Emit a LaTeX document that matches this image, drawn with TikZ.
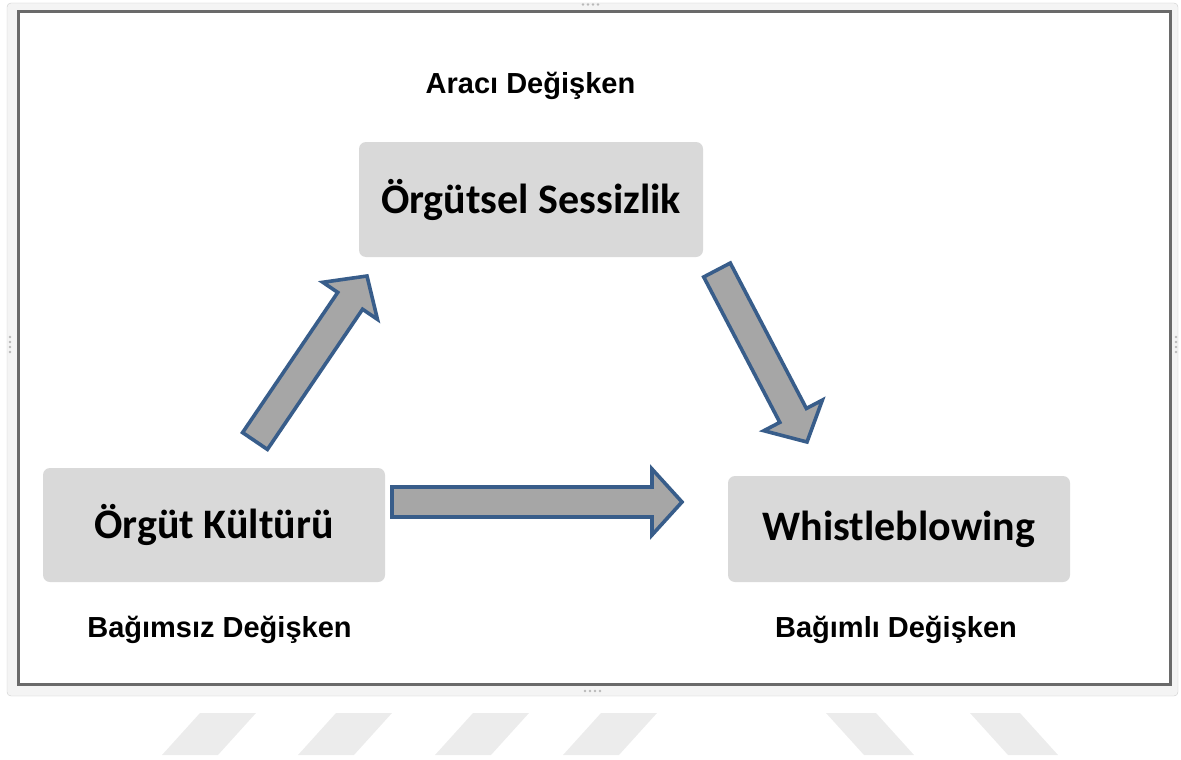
\documentclass[tikz,border=0pt]{standalone}
\usepackage{fontspec}
\usepackage{xcolor}
\usepackage{tikz}
\usetikzlibrary{calc}
\newfontfamily\boxfont{Carlito}
\newfontfamily\labelfont{Liberation Sans}
\definecolor{boxgray}{HTML}{D9D9D9}
\definecolor{arrowgray}{HTML}{A6A6A6}
\definecolor{arrowblue}{HTML}{385D8A}
\definecolor{framegray}{HTML}{6A6A6A}
\definecolor{markgray}{HTML}{ECECEC}

% block arrow between two named points: tail (#1) and tip (#2)
\newcommand{\blockarrow}[2]{%
  \coordinate (#1-hb) at ($(#2)!30pt!(#1)$);
  \draw[blockarr] ($(#1)!15pt!90:(#2)$) -- ($(#1-hb)!15pt!90:(#2)$)
    -- ($(#1-hb)!33pt!90:(#2)$) -- (#2) -- ($(#1-hb)!33pt!-90:(#2)$)
    -- ($(#1-hb)!15pt!-90:(#2)$) -- ($(#1)!15pt!-90:(#2)$) -- cycle;
}

\tikzset{
  varbox/.style={fill=boxgray, rounded corners=7pt, inner sep=0pt,
    font=\boxfont\bfseries\fontsize{42}{50}\selectfont},
  varlabel/.style={anchor=base, inner sep=0pt,
    font=\labelfont\bfseries\fontsize{29}{34}\selectfont},
  blockarr/.style={draw=arrowblue, fill=arrowgray, line width=3.6pt, line join=miter},
  handle/.style={fill=gray!55}
}

\begin{document}
\begin{tikzpicture}[x=1pt,y=-1pt]
\useasboundingbox (0,0) rectangle (1181,760);

% ===================== frame =====================
\draw[gray!40, fill=gray!9, rounded corners=4pt] (7,3) rectangle (1178,696);
\draw[framegray, line width=3pt, fill=white] (18,12) rectangle (1170,684);
\foreach \k in {0,...,3}{
  \fill[handle] (583+\k*5,4.5) circle (1.3);
  \fill[handle] (585+\k*5,691) circle (1.3);
  \fill[handle] (10,337+\k*5) circle (1.3);
  \fill[handle] (1176,337+\k*5) circle (1.3);
}

% ===================== watermark strips =====================
\foreach \a in {162,298,435,563}{
  \fill[markgray] (\a,755) -- (\a+56,755) -- (\a+94,713) -- (\a+38,713) -- cycle;
}
\foreach \a in {826,970}{
  \fill[markgray] (\a,713) -- (\a+50,713) -- (\a+88,755) -- (\a+38,755) -- cycle;
}

% ===================== variables =====================
\node[varbox, minimum width=344pt, minimum height=115pt] (silence) at (531,199.5) {Örgütsel Sessizlik};
\node[varbox, minimum width=342pt, minimum height=114pt] (culture) at (214,525) {Örgüt Kültürü};
\node[varbox, minimum width=342pt, minimum height=106pt] (whistle) at (899,529) {Whistleblowing};

\node[varlabel] (medlabel) at (530.5,93) {Aracı Değişken};
\node[varlabel] (indlabel) at (219.5,637) {Bağımsız Değişken};
\node[varlabel] (deplabel) at (896,637) {Bağımlı Değişken};

% ===================== relations =====================
\coordinate (culture-up)   at (255,441);
\coordinate (silence-in)   at (367,276);
\coordinate (silence-down) at (717,270);
\coordinate (whistle-in)   at (807,442);
\coordinate (culture-right) at (392,502);
\coordinate (whistle-left)  at (682,502);

\blockarrow{culture-up}{silence-in}
\blockarrow{silence-down}{whistle-in}
\blockarrow{culture-right}{whistle-left}

\end{tikzpicture}
\end{document}
